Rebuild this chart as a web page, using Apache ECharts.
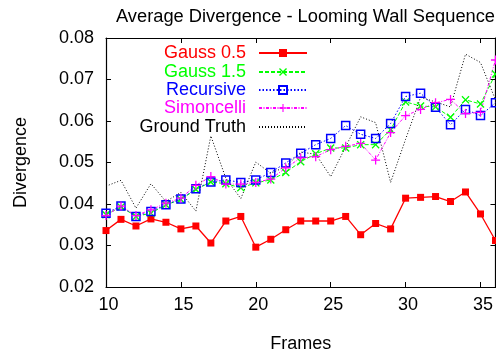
<!DOCTYPE html>
<html>
<head>
<meta charset="utf-8">
<script src="https://cdn.jsdelivr.net/npm/echarts@6/dist/echarts.min.js"></script>
<style>html,body{margin:0;padding:0;background:#fff}#c{width:496px;height:358px}</style>
</head>
<body>
<div id="c"></div>
<script>
var frames = [10,11,12,13,14,15,16,17,18,19,20,21,22,23,24,25,26,27,28,29,30,31,32,33,34,35,36];
var gauss05 = [0.0336,0.0363,0.0347,0.0364,0.0356,0.0340,0.0347,0.0306,0.0359,0.0370,0.0296,0.0315,0.0338,0.0359,0.0359,0.0359,0.0370,0.0326,0.0353,0.0340,0.0414,0.0416,0.0418,0.0406,0.0429,0.0376,0.0312];
var gauss15 = [0.0374,0.0393,0.0370,0.0378,0.0398,0.0411,0.0435,0.0453,0.0449,0.0439,0.0451,0.0458,0.0476,0.0502,0.0521,0.0535,0.0535,0.0543,0.0543,0.0579,0.0646,0.0636,0.0634,0.0609,0.0651,0.0641,0.0713];
var recursive = [0.0378,0.0395,0.0370,0.0382,0.0398,0.0412,0.0437,0.0453,0.0458,0.0452,0.0458,0.0476,0.0499,0.0522,0.0543,0.0558,0.0589,0.0568,0.0558,0.0594,0.0659,0.0667,0.0633,0.0591,0.0628,0.0613,0.0644];
var simoncelli = [0.0372,0.0395,0.0372,0.0386,0.0402,0.0414,0.0445,0.0466,0.0448,0.0448,0.0452,0.0460,0.0487,0.0511,0.0514,0.0531,0.0539,0.0546,0.0506,0.0572,0.0613,0.0628,0.0644,0.0652,0.0618,0.0621,0.0747];
var groundTruth = [0.0443,0.0457,0.0390,0.0449,0.0406,0.0428,0.0383,0.0564,0.0462,0.0413,0.0501,0.0474,0.0490,0.0525,0.0520,0.0466,0.0538,0.0610,0.0596,0.0452,0.0556,0.0657,0.0646,0.0634,0.0761,0.0741,0.0651];
var seriesNames = ['Gauss 0.5','Gauss 1.5','Recursive','Simoncelli','Ground Truth'];
var xTicks = [10,15,20,25,30,35];
var yTicks = [0.02,0.03,0.04,0.05,0.06,0.07,0.08];

var FONT = 'Liberation Sans, Arial, Helvetica, sans-serif';
function pairs(v){ return frames.map(function(f,i){ return [f, v[i]]; }); }
var colors = ['#ff0000','#00ff00','#0000ff','#ff00ff','#000000'];
var X_PATH = 'path://M0,1.2L1.2,0L5,3.8L8.8,0L10,1.2L6.2,5L10,8.8L8.8,10L5,6.2L1.2,10L0,8.8L3.8,5Z';
var PLUS_PATH = 'path://M4.3,0H5.7V4.3H10V5.7H5.7V10H4.3V5.7H0V4.3H4.3Z';

var chart = echarts.init(document.getElementById('c'), null, {renderer:'canvas'});
var axisCommon = {
  axisLine:{show:true, lineStyle:{color:'#000', width:1.2}},
  axisTick:{show:true, inside:true, length:5, lineStyle:{color:'#000', width:1}},
  splitLine:{show:false}
};
var legendRowsTop = [44, 63, 81, 99, 118];
var legends = seriesNames.map(function(n, i){
  var lg = {
    data:[n], right:188, top:legendRowsTop[i], orient:'vertical', align:'right',
    padding:0, itemWidth:48, itemHeight:10, selectedMode:false,
    textStyle:{color:colors[i], fontSize:18, fontFamily:FONT, padding:[0,8,0,0]}
  };
  if (i === 4) { lg.itemStyle = {color:'rgba(0,0,0,0)', borderWidth:0, opacity:0}; }
  return lg;
});
var option = {
  animation:false,
  backgroundColor:'#fff',
  title:{text:'Average Divergence - Looming Wall Sequence', left:111, top:3,
    textStyle:{fontSize:18.3, fontWeight:'normal', color:'#000', fontFamily:FONT}},
  legend: legends,
  grid:{left:106, top:38, right:-2.3, bottom:59, containLabel:false},
  xAxis:[
    Object.assign({type:'value', min:10, max:36, interval:5, position:'bottom',
      name:'Frames', nameLocation:'middle', nameGap:48,
      nameTextStyle:{fontSize:18, color:'#000', fontFamily:FONT},
      axisLabel:{fontSize:18, color:'#000', fontFamily:FONT, margin:9, showMaxLabel:false, padding:[0,0,0,5],
        formatter:function(v){ return xTicks.indexOf(v) >= 0 ? String(v) : ''; }}}, axisCommon),
    Object.assign({type:'value', min:10, max:36, interval:5, position:'top', axisLabel:{show:false}}, axisCommon)
  ],
  yAxis:[
    Object.assign({type:'value', min:0.02, max:0.08, interval:0.01, position:'left',
      name:'Divergence', nameLocation:'middle', nameGap:76, nameRotate:90,
      nameTextStyle:{fontSize:18, color:'#000', fontFamily:FONT},
      axisLabel:{fontSize:18, color:'#000', fontFamily:FONT, margin:12,
        formatter:function(v){ var t = Math.round(v*100)/100; return yTicks.indexOf(t) >= 0 ? t.toFixed(2) : ''; }}}, axisCommon),
    Object.assign({type:'value', min:0.02, max:0.08, interval:0.01, position:'right', axisLabel:{show:false}}, axisCommon)
  ],
  series:[
    {name:seriesNames[0], type:'line', data:pairs(gauss05), symbol:'rect', symbolSize:7,
      lineStyle:{color:colors[0], width:1.3}, itemStyle:{color:colors[0]}},
    {name:seriesNames[1], type:'line', data:pairs(gauss15), symbol:X_PATH, symbolSize:8,
      lineStyle:{color:colors[1], width:1, type:[4,2]}, itemStyle:{color:colors[1]}},
    {name:seriesNames[2], type:'line', data:pairs(recursive), symbol:'rect', symbolSize:8,
      lineStyle:{color:colors[2], width:1, type:[1.5,2]},
      itemStyle:{color:'rgba(0,0,0,0)', borderColor:colors[2], borderWidth:1.5}},
    {name:seriesNames[3], type:'line', data:pairs(simoncelli), symbol:PLUS_PATH, symbolSize:9,
      lineStyle:{color:colors[3], width:1, type:[3,1.5,1,1.5]}, itemStyle:{color:colors[3]}},
    {name:seriesNames[4], type:'line', data:pairs(groundTruth), symbol:'none', showSymbol:false,
      lineStyle:{color:colors[4], width:1, type:[1,2]}, itemStyle:{color:colors[4]}}
  ]
};
chart.setOption(option);
</script>
</body>
</html>
